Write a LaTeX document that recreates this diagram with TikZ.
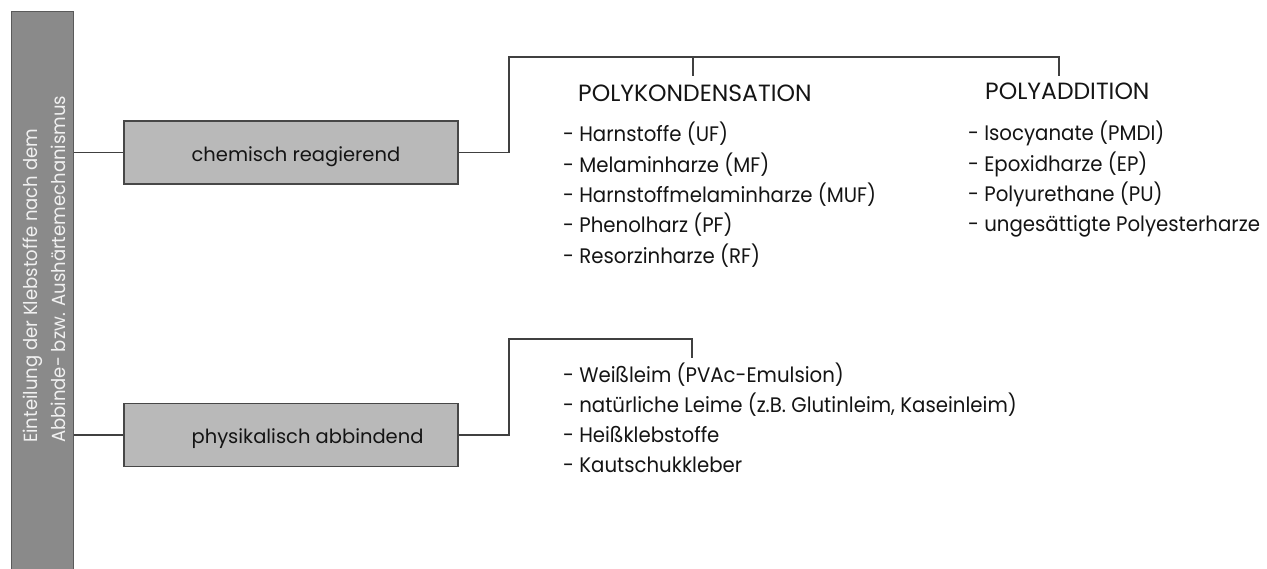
\documentclass[tikz,border=0pt]{standalone}
\usepackage{fontspec}
\setmainfont{Poppins}
\newfontfamily\listfont[FakeStretch=0.94]{Poppins}
\newfontfamily\barfont[FakeStretch=0.95]{Poppins}
\definecolor{barfill}{HTML}{8A8A8A}
\definecolor{barline}{HTML}{5A5A5A}
\definecolor{boxfill}{HTML}{B9B9B9}
\definecolor{boxline}{HTML}{474747}
\definecolor{connc}{HTML}{404040}
\definecolor{txt}{HTML}{141414}
\begin{document}
\begin{tikzpicture}[x=1pt,y=-1pt,
  bar/.style={draw=barline,fill=barfill,line width=1.2pt,inner sep=0pt,anchor=north west},
  bartext/.style={text=white!94!black,font=\barfont\fontsize{19}{28}\selectfont,align=left,rotate=90,inner sep=0pt},
  catbox/.style={draw=boxline,fill=boxfill,line width=1.2pt,minimum width=334pt,minimum height=63pt,inner sep=0pt},
  boxtext/.style={text=txt,font=\fontsize{19.5}{23}\selectfont,anchor=base west,inner sep=0pt},
  conn/.style={draw=connc,line width=1.2pt},
  head/.style={text=txt,font=\fontsize{23.5}{26}\selectfont,anchor=base west,inner sep=0pt},
  item/.style={text=txt,font=\listfont\fontsize{21}{25}\selectfont,anchor=base west,inner sep=0pt}]
\useasboundingbox (0,0) rectangle (1267,569);
% left bar
\node[bar,minimum width=62pt,minimum height=570pt] (bar) at (11,11) {};
\node[bartext,anchor=west] (bartxt) at (44,443) {Einteilung der Klebstoffe nach dem\\Abbinde- bzw. Aushärtemechanismus};
% category boxes
\node[catbox] (chem) at (291,152.5) {};
\node[boxtext] (chemtxt) at ([xshift=68pt,yshift=-9.5pt]chem.west) {chemisch reagierend};
\node[catbox] (phys) at (291,435) {};
\node[boxtext] (phystxt) at ([xshift=68pt,yshift=-8.5pt]phys.west) {physikalisch abbindend};
% headers
\node[head] (pk) at (578,102) {POLYKONDENSATION};
\node[head] (pa) at (985,100) {POLYADDITION};
% lists
\foreach \t [count=\i] in {{- Harnstoffe (UF)},{- Melaminharze (MF)},{- Harnstoffmelaminharze (MUF)},{- Phenolharz (PF)},{- Resorzinharze (RF)}}
  \node[item] (pkitem\i) at (563,{142+(\i-1)*30.3}) {\t};
\foreach \t [count=\i] in {{- Isocyanate (PMDI)},{- Epoxidharze (EP)},{- Polyurethane (PU)},{- ungesättigte Polyesterharze}}
  \node[item] (paitem\i) at (968,{141+(\i-1)*30.3}) {\t};
\foreach \t [count=\i] in {{- Weißleim (PVAc-Emulsion)},{- natürliche Leime (z.B. Glutinleim, Kaseinleim)},{- Heißklebstoffe},{- Kautschukkleber}}
  \node[item] (phitem\i) at (563,{383+(\i-1)*29.7}) {\t};
% junction coordinates
\coordinate (j1) at (509,57);
\coordinate (t1) at (693,76);
\coordinate (t2) at (1059,76);
\coordinate (j2) at (509,339);
\coordinate (t3) at (692,358);
% connectors
\draw[conn] (chem.west -| bar.east) -- (chem.west);
\draw[conn] (phys.west -| bar.east) -- (phys.west);
\draw[conn] (chem.east) -| (j1) -| (t2);
\draw[conn] (t1 |- j1) -- (t1);
\draw[conn] (phys.east) -| (j2) -| (t3);
\end{tikzpicture}
\end{document}
